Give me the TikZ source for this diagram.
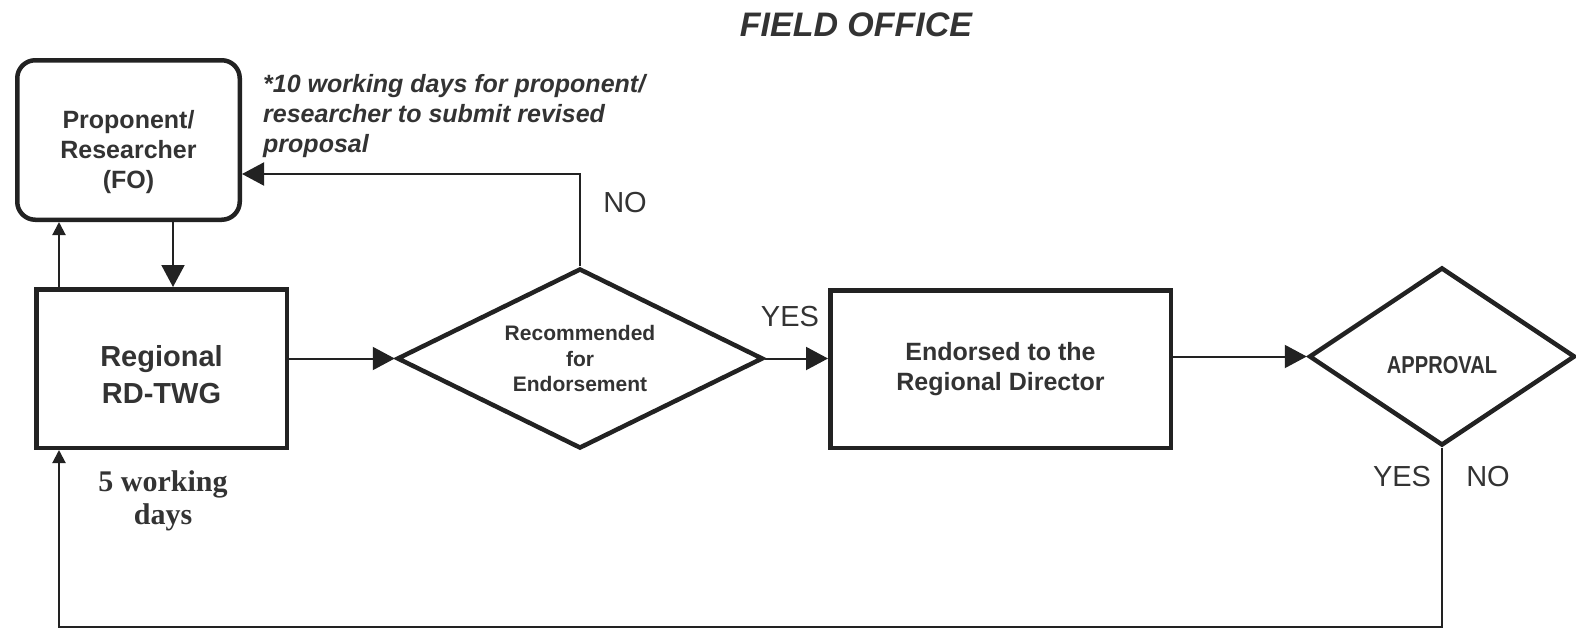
\documentclass[tikz,border=0pt]{standalone}
\usepackage{fontspec}
\setmainfont{Liberation Sans}
\newfontfamily\serifbold{Liberation Serif}
\newfontfamily\narrowsans[FakeStretch=0.82]{Liberation Sans}
\usetikzlibrary{arrows.meta, shapes.geometric}
\definecolor{ink}{HTML}{222222}
\definecolor{textink}{HTML}{333333}
\tikzset{
  >={Triangle[length=22pt, width=23pt]},
  %
  box/.style={
    draw=ink, line width=4.5pt, fill=white, align=center, text=textink,
    inner sep=0pt, font=\bfseries\fontsize{25}{30}\selectfont,
  },
  boxr/.style={box, rounded corners=18pt},
  decision/.style={box, diamond, aspect=2, font=\bfseries\fontsize{21}{25.5}\selectfont},
  %
  flow/.style={draw=ink, line width=2pt, ->},
  flowsmall/.style={flow, -{Triangle[length=13pt, width=13pt]}},
  %
  lbl/.style={text=textink, font=\fontsize{29}{33}\selectfont, inner sep=0pt},
  note/.style={text=textink, font=\bfseries\itshape\fontsize{25}{30}\selectfont,
               align=left, inner sep=0pt},
}

\begin{document}
\begin{tikzpicture}[x=1pt, y=-1pt]
  \useasboundingbox (0,0) rectangle (1576,629);

  \node[note, font=\bfseries\itshape\fontsize{34}{40}\selectfont] (title) at (856,25) {FIELD OFFICE};

  \node[boxr, minimum width=222.5, minimum height=159.5] (prop) at (128.5,140)
    {\rule{0pt}{42pt}Proponent/\\Researcher\\(FO)};
  \node[box, minimum width=250.5, minimum height=158.5, font=\bfseries\fontsize{29}{37}\selectfont]
    (rdtwg) at (161.5,368.5) {\rule{0pt}{33pt}Regional\\RD-TWG};
  \node[decision, minimum width=366, minimum height=180] (rec) at (580,358.5)
    {Recommended\\for\\Endorsement};
  \node[box, minimum width=340.5, minimum height=157.5] (endorse) at (1000.5,369)
    {Endorsed to the\\Regional Director};
  \node[decision, minimum width=266, minimum height=178, font=\narrowsans\bfseries\fontsize{24.5}{28}\selectfont]
    (appr) at (1442,356.5) {\rule{0pt}{34pt}APPROVAL};

  \draw[flow] ([xshift=44.5pt]prop.south) -- ([xshift=44.5pt]prop.south |- rdtwg.north);
  \draw[flowsmall] ([xshift=-69.5pt]prop.south |- rdtwg.north) -- ([xshift=-69.5pt]prop.south);
  \draw[flow] (rdtwg.east |- rec.west) -- (rec.west);

  % sent back for revision
  \draw[flow] (rec.north) |- ([yshift=-34pt]prop.east);
  \node[lbl] (no1) at (625,203) {NO};
  \node[note, anchor=north west] (days10) at (263,74)
    {*10 working days for proponent/\\researcher to submit revised\\proposal};

  \draw[flow] (rec.east) -- (rec.east -| endorse.west);
  \node[lbl] (yes1) at (790,317) {YES};
  \draw[flow] (endorse.east |- appr.west) -- (appr.west);

  % back to the RD-TWG
  \coordinate (corner) at (59,627);
  \draw[flowsmall] (appr.south) |- (corner) -- (corner |- rdtwg.south);
  \node[lbl] (yes2) at (1402,477) {YES};
  \node[lbl] (no2) at (1488,477) {NO};

  \node[text=textink, align=center, inner sep=0pt, font=\serifbold\bfseries\fontsize{30}{33}\selectfont]
    (days5) at (163,501) {5 working\\days};

\end{tikzpicture}
\end{document}
